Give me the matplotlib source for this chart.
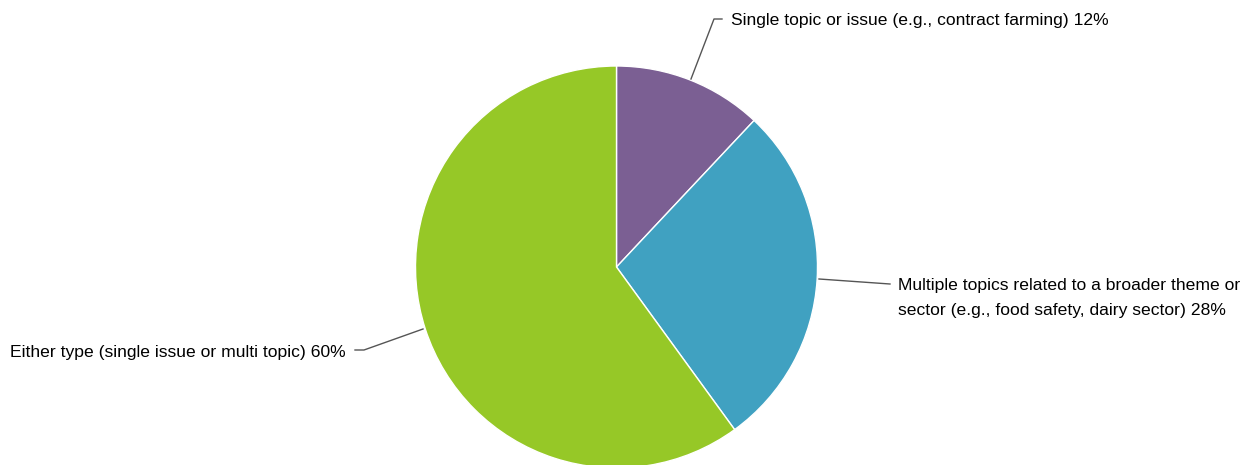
import numpy as np
import matplotlib.pyplot as plt

plt.rcParams['font.family'] = ['Liberation Sans', 'DejaVu Sans']

labels = ['Single topic or issue (e.g., contract farming) 12%',
          'Multiple topics related to a broader theme or\nsector (e.g., food safety, dairy sector) 28%',
          'Either type (single issue or multi topic) 60%']
shares = [12, 28, 60]
colors = ['#7B5F93', '#40A1C1', '#96C827']

W, H = 1242, 465
fig = plt.figure(figsize=(W / 100, H / 100), dpi=100)
ax = fig.add_axes([0, 0, 1, 1])

cx, cy, r = 616.5, H - 267, 201
ax.pie(shares, colors=colors, startangle=90, counterclock=False,
       center=(cx, cy), radius=r, frame=True,
       wedgeprops=dict(edgecolor='white', linewidth=1))
ax.set_xlim(0, W)
ax.set_ylim(0, H)
ax.axis('off')

# leader lines (pixel coords, y from top)
def pl(pts):
    xs = [p[0] for p in pts]
    ys = [H - p[1] for p in pts]
    ax.plot(xs, ys, color='#555555', lw=1)

pl([(691, 79), (714, 19), (722, 19)])
pl([(819, 279), (890, 284)])
pl([(423, 329), (364, 350), (355, 350)])

fs = 12.6
ax.text(731, H - 21, labels[0], fontsize=fs, va='center', ha='left')
ax.text(898, H - 298, labels[1], fontsize=fs, va='center', ha='left', linespacing=1.78)
ax.text(346, H - 352, labels[2], fontsize=fs, va='center', ha='right')

fig.savefig('out.png', dpi=100)
